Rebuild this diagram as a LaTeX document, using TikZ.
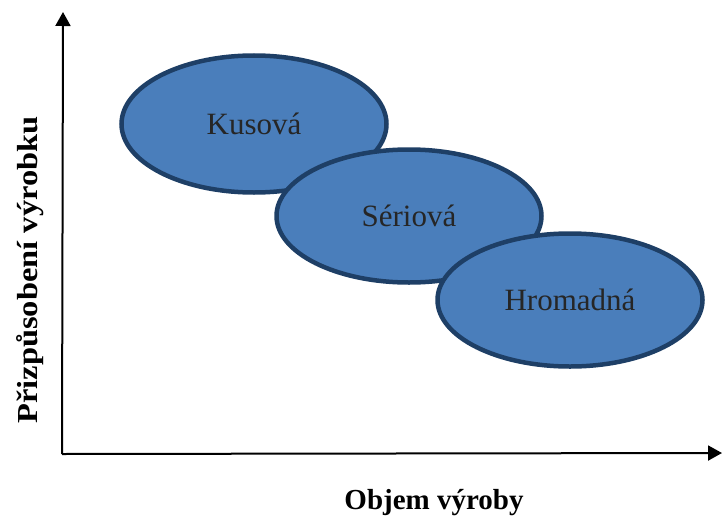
\documentclass[tikz,border=0pt]{standalone}
\usepackage{fontspec}
\setmainfont{Liberation Serif}
\usetikzlibrary{shapes.geometric,arrows.meta}
\definecolor{blobfill}{HTML}{4A7EBB}
\definecolor{blobedge}{HTML}{1E3F66}
\begin{document}
\begin{tikzpicture}[x=1pt,y=-1pt,
  blob/.style={ellipse, draw=blobedge, fill=blobfill, line width=4.5pt,
    minimum width=265pt, minimum height=133pt, inner sep=0pt,
    font=\fontsize{31}{34}\selectfont, text=black!85},
  axis/.style={line width=2pt, -{Triangle[length=14pt,width=15pt]}},
  axislabel/.style={font=\fontsize{29}{32}\selectfont\bfseries, inner sep=0pt}]
  \useasboundingbox (0,0) rectangle (722,519);
  % axes
  \coordinate (o) at (62,454);
  \coordinate (ytop) at (63,12);
  \coordinate (xend) at (722,453);
  \draw[axis] (o) -- (ytop);
  \draw[axis] (o) -- (xend);
  % production types
  \node[blob, minimum height=137pt] (kus) at (254,124) {Kusová};
  \node[blob] (ser) at (409,216) {Sériová};
  \node[blob] (hrom) at (570,300) {Hromadná};
  % axis titles
  \node[axislabel] (xl) at (434,503) {Objem výroby};
  \node[axislabel, rotate=90, xscale=1.12] (yl) at (30,270) {Přizpůsobení výrobku};
\end{tikzpicture}
\end{document}
